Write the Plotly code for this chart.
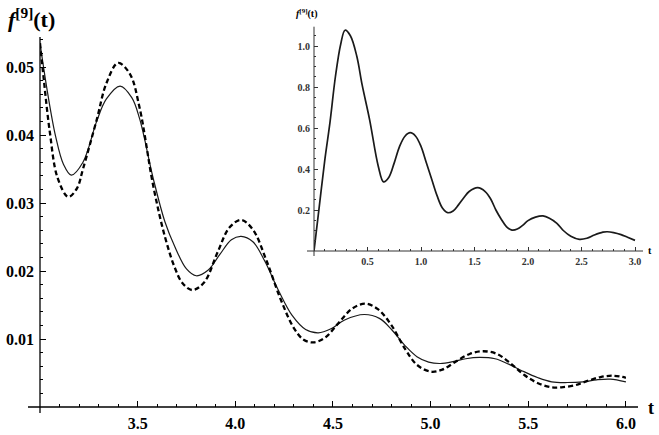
import plotly.graph_objects as go
import numpy as np

# main plot, t from 3 to 6
t_solid = [3.00, 3.04, 3.08, 3.12, 3.16, 3.22, 3.29, 3.34, 3.41, 3.47, 3.51, 3.58,
           3.64, 3.69, 3.75, 3.80, 3.86, 3.92, 3.98, 4.03, 4.09, 4.15, 4.22, 4.29,
           4.36, 4.425, 4.49, 4.56, 4.66, 4.74, 4.80, 4.87, 4.93, 4.99, 5.05, 5.12,
           5.18, 5.25, 5.33, 5.40, 5.47, 5.55, 5.62, 5.70, 5.78, 5.85, 5.92, 6.00]
f_solid = [0.0535, 0.0460, 0.0398, 0.0357, 0.0341, 0.0360, 0.0420, 0.0453, 0.0472,
           0.0455, 0.0424, 0.0336, 0.0272, 0.0236, 0.0203, 0.0193, 0.0201, 0.0224,
           0.0246, 0.0251, 0.0243, 0.0215, 0.0172, 0.0135, 0.0114, 0.0109, 0.0115,
           0.0128, 0.0136, 0.0130, 0.0114, 0.0090, 0.0074, 0.0066, 0.0064, 0.0067,
           0.0071, 0.0073, 0.0071, 0.0063, 0.0053, 0.0043, 0.0037, 0.0036, 0.0037,
           0.0040, 0.0041, 0.0037]

t_dashed = [3.00, 3.02, 3.05, 3.09, 3.145, 3.19, 3.22, 3.29, 3.34, 3.40, 3.46, 3.51,
            3.58, 3.64, 3.69, 3.73, 3.78, 3.84, 3.91, 3.97, 4.03, 4.09, 4.16, 4.23,
            4.30, 4.35, 4.40, 4.46, 4.53, 4.60, 4.665, 4.73, 4.80, 4.87, 4.93, 5.00,
            5.06, 5.13, 5.20, 5.27, 5.34, 5.41, 5.48, 5.55, 5.62, 5.67, 5.74, 5.80,
            5.87, 5.935, 6.00]
f_dashed = [0.0535, 0.0480, 0.0405, 0.0337, 0.0309, 0.0322, 0.0350, 0.0422, 0.0476,
            0.0506, 0.0490, 0.0440, 0.0325, 0.0250, 0.0205, 0.0182, 0.0172, 0.0183,
            0.0228, 0.0264, 0.0275, 0.0261, 0.0215, 0.0160, 0.0116, 0.0099, 0.0095,
            0.0102, 0.0124, 0.0145, 0.0152, 0.0144, 0.0120, 0.0085, 0.0062, 0.0052,
            0.0055, 0.0067, 0.0078, 0.0082, 0.0078, 0.0064, 0.0047, 0.0035, 0.0029,
            0.0029, 0.0032, 0.0038, 0.0044, 0.0046, 0.0043]

# inset, t from 0 to 3
t_inset = [0.00, 0.05, 0.10, 0.15, 0.20, 0.25, 0.29, 0.34, 0.40, 0.45, 0.52, 0.60,
           0.65, 0.70, 0.75, 0.80, 0.85, 0.90, 0.95, 1.00, 1.05, 1.10, 1.15, 1.20,
           1.25, 1.30, 1.35, 1.40, 1.45, 1.53, 1.60, 1.65, 1.70, 1.75, 1.80, 1.85,
           1.90, 1.95, 2.00, 2.07, 2.14, 2.20, 2.27, 2.33, 2.40, 2.48, 2.55, 2.62,
           2.70, 2.74, 2.80, 2.87, 2.93, 3.00]
f_inset = [0.00, 0.22, 0.44, 0.63, 0.85, 1.01, 1.077, 1.05, 0.95, 0.81, 0.64, 0.415,
           0.337, 0.36, 0.43, 0.51, 0.56, 0.577, 0.56, 0.51, 0.43, 0.35, 0.27, 0.21,
           0.187, 0.195, 0.225, 0.26, 0.29, 0.309, 0.29, 0.255, 0.20, 0.155, 0.118,
           0.102, 0.107, 0.125, 0.148, 0.165, 0.171, 0.16, 0.135, 0.10, 0.072, 0.057,
           0.062, 0.078, 0.092, 0.094, 0.09, 0.08, 0.067, 0.052]

W, H = 659, 435
ML, MR, MT, MB = 40, 14, 25, 28
PW, PH = W - ML - MR, H - MT - MB

def px(x, y):
    # pixel position -> paper coords
    return (x - ML) / PW, (H - MB - y) / PH

SERIF = 'Liberation Serif, Times New Roman, DejaVu Serif, serif'

fig = go.Figure()
fig.add_trace(go.Scatter(x=t_solid, y=f_solid, mode='lines', line_shape='spline',
                         line=dict(color='#1a1a1a', width=1.2), showlegend=False))
fig.add_trace(go.Scatter(x=t_dashed, y=f_dashed, mode='lines', line_shape='spline',
                         line=dict(color='black', width=2.3, dash='5px,3px'), showlegend=False))
fig.add_trace(go.Scatter(x=t_inset, y=f_inset, mode='lines', line_shape='spline',
                         line=dict(color='#1a1a1a', width=1.7), showlegend=False,
                         xaxis='x2', yaxis='y2'))

x_lo, x_hi = 3.0, 3.0 + PW / 195.3
y_hi = PH / 6800.0

fig.update_layout(
    width=W, height=H,
    margin=dict(l=ML, r=MR, t=MT, b=MB, autoexpand=False),
    paper_bgcolor='white', plot_bgcolor='rgba(0,0,0,0)',
    xaxis=dict(range=[x_lo, x_hi], showgrid=False, zeroline=False, showline=False,
               automargin=False,
               tickvals=[3.5, 4.0, 4.5, 5.0, 5.5, 6.0], ticktext=['3.5', '4.0', '4.5', '5.0', '5.5', '6.0'],
               ticks='inside', ticklen=6, tickwidth=1, tickcolor='black',
               tickfont=dict(family=SERIF, size=16, color='black', weight='bold'),
               ticklabelstandoff=5,
               minor=dict(tickvals=list(np.round(np.arange(3.1, 6.01, 0.1), 2)),
                          ticks='inside', ticklen=3, tickcolor='black', showgrid=False)),
    yaxis=dict(range=[0, y_hi], showgrid=False, zeroline=False, showline=False,
               automargin=False,
               tickvals=[0.01, 0.02, 0.03, 0.04, 0.05], ticktext=['0.01', '0.02', '0.03', '0.04', '0.05'],
               ticks='inside', ticklen=6, tickwidth=1, tickcolor='black',
               tickfont=dict(family=SERIF, size=16, color='black', weight='bold'),
               ticklabelstandoff=5,
               minor=dict(tickvals=list(np.round(np.arange(0.002, 0.0545, 0.002), 4)),
                          ticks='inside', ticklen=3, tickcolor='black', showgrid=False)),
)

# inset axes
ix0, iy0 = px(314, 251)
ix1, iy1 = px(643, 26.7)
fig.update_layout(
    xaxis2=dict(domain=[ix0, ix1], anchor='y2', range=[0, (643 - 314) / 107.0],
                showgrid=False, zeroline=False, showline=False, automargin=False,
                tickvals=[0.5, 1.0, 1.5, 2.0, 2.5, 3.0],
                ticktext=['0.5', '1.0', '1.5', '2.0', '2.5', '3.0'],
                ticks='inside', ticklen=4, tickcolor='#333',
                tickfont=dict(family=SERIF, size=10, color='#333', weight='bold'),
                ticklabelstandoff=3,
                minor=dict(tickvals=list(np.round(np.arange(0.1, 3.01, 0.1), 2)),
                           ticks='inside', ticklen=2, tickcolor='#333', showgrid=False)),
    yaxis2=dict(domain=[iy0, iy1], anchor='x2', range=[0, (251 - 26.7) / 205.0],
                showgrid=False, zeroline=False, showline=False, automargin=False,
                tickvals=[0.2, 0.4, 0.6, 0.8, 1.0],
                ticktext=['0.2', '0.4', '0.6', '0.8', '1.0'],
                ticks='inside', ticklen=4, tickcolor='#333',
                tickfont=dict(family=SERIF, size=10, color='#333', weight='bold'),
                ticklabelstandoff=3,
                minor=dict(tickvals=list(np.round(np.arange(0.05, 1.09, 0.05), 2)),
                           ticks='inside', ticklen=2, tickcolor='#333', showgrid=False)),
)

# axis lines crossing like the original
def seg(x0, y0, x1, y1, color='black', width=1.3):
    a, b = px(x0, y0)
    c, d = px(x1, y1)
    fig.add_shape(type='line', xref='paper', yref='paper', x0=a, y0=b, x1=c, y1=d,
                  line=dict(color=color, width=width))

seg(28, 407, 638, 407)
seg(40, 413, 40, 37)
seg(307, 251, 643, 251, color='#333', width=1)
seg(314, 256, 314, 26.7, color='#333', width=1)

def label(x, y, text, size, xanchor='left'):
    a, b = px(x, y)
    fig.add_annotation(xref='paper', yref='paper', x=a, y=b, text=text, showarrow=False,
                       xanchor=xanchor, yanchor='middle',
                       font=dict(family=SERIF, size=size, color='black'))

label(6, 18, '<b><i>f</i><sup>[9]</sup>(t)</b>', 22)
label(651, 408, '<b>t</b>', 18, xanchor='center')
label(294, 14, '<b><i>f</i><sup>[9]</sup>(t)</b>', 10)
label(650, 250, '<b>t</b>', 10, xanchor='center')

# page has a default 8px body margin; drop it so the figure sits at the corner
fig.write_html("out.html", config={'displayModeBar': False},
               post_script="document.body.style.margin='0';")
